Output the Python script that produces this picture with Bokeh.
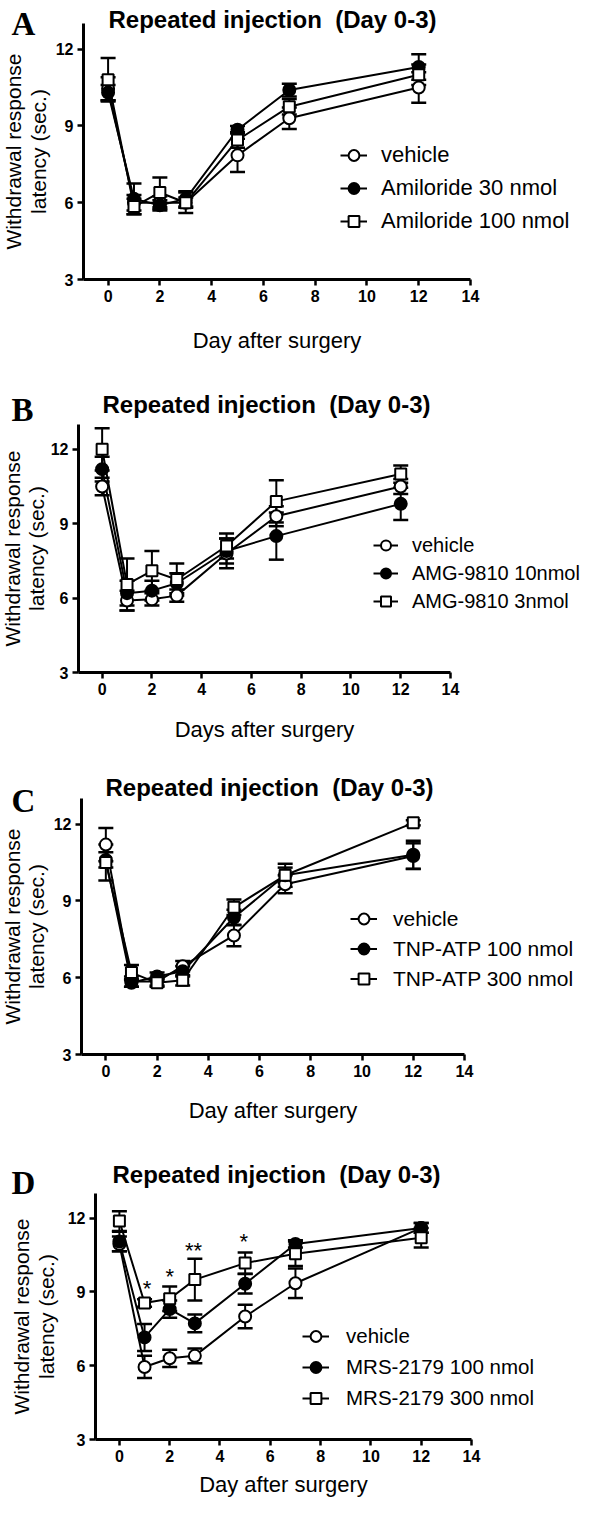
import numpy as np
from bokeh.plotting import figure
from bokeh.models import Range1d, FixedTicker, Label, Legend, LegendItem, LinearAxis
from bokeh.layouts import column
from bokeh.embed import file_html
from bokeh.resources import INLINE
from bokeh.core.properties import value

# ---------------- data ----------------
days = [0, 1, 2, 3, 5, 7, 12]
x_ticks = [0, 2, 4, 6, 8, 10, 12, 14]
y_ticks = [3, 6, 9, 12]
x_axis_span = (-0.95, 14)
y_axis_span = (3, 13)
title_text = "Repeated injection\u00a0\u00a0(Day 0-3)"
ylabel_1 = "Withdrawal response"
ylabel_2 = "latency (sec.)"

# Panel A
a_xlabel = "Day after surgery"
a_names = ["vehicle", "Amiloride 30 nmol", "Amiloride 100 nmol"]
a_vehicle = [10.45, 6.0, 6.0, 6.0, 7.85, 9.3, 10.5]
a_vehicle_err = [0.45, 0.3, 0.25, 0.2, 0.65, 0.42, 0.6]
a_ami30 = [10.3, 6.15, 5.9, 6.15, 8.85, 10.4, 11.3]
a_ami30_err = [0.3, 0.6, 0.2, 0.3, 0.15, 0.25, 0.5]
a_ami100 = [10.8, 5.85, 6.4, 6.0, 8.45, 9.75, 11.0]
a_ami100_err = [0.85, 0.3, 0.58, 0.4, 0.3, 0.3, 0.4]

# Panel B
b_xlabel = "Days after surgery"
b_names = ["vehicle", "AMG-9810 10nmol", "AMG-9810 3nmol"]
b_vehicle = [10.5, 5.9, 5.95, 6.1, 7.8, 9.3, 10.5]
b_vehicle_err = [0.35, 0.4, 0.25, 0.25, 0.6, 0.4, 0.3]
b_amg10 = [11.2, 6.2, 6.3, 6.6, 7.9, 8.5, 9.8]
b_amg10_err = [0.5, 0.5, 0.4, 0.4, 0.5, 0.95, 0.65]
b_amg3 = [12.0, 6.55, 7.1, 6.75, 8.1, 9.9, 11.0]
b_amg3_err = [0.85, 1.05, 0.8, 0.65, 0.5, 0.85, 0.35]

# Panel C
c_xlabel = "Day after surgery"
c_names = ["vehicle", "TNP-ATP 100 nmol", "TNP-ATP 300 nmol"]
c_vehicle = [11.2, 5.85, 5.85, 6.45, 7.65, 9.65, 10.75]
c_vehicle_err = [0.65, 0.2, 0.15, 0.2, 0.42, 0.35, 0.5]
c_tnp100 = [10.6, 5.8, 6.05, 6.25, 8.35, 10.0, 10.8]
c_tnp100_err = [0.3, 0.15, 0.15, 0.2, 0.3, 0.3, 0.55]
c_tnp300 = [10.5, 6.2, 5.8, 5.9, 8.75, 10.0, 12.05]
c_tnp300_err = [0.7, 0.3, 0.15, 0.2, 0.3, 0.45, 0.1]

# Panel D
d_xlabel = "Day after surgery"
d_names = ["vehicle", "MRS-2179 100 nmol", "MRS-2179 300 nmol"]
d_vehicle = [10.95, 5.95, 6.3, 6.4, 8.0, 9.35, 11.6]
d_vehicle_err = [0.3, 0.45, 0.35, 0.3, 0.48, 0.6, 0.2]
d_mrs100 = [11.05, 7.15, 8.3, 7.72, 9.33, 10.95, 11.6]
d_mrs100_err = [0.4, 0.55, 0.35, 0.36, 0.4, 0.15, 0.2]
d_mrs300 = [11.88, 8.55, 8.72, 9.5, 10.17, 10.55, 11.2]
d_mrs300_err = [0.4, 0.15, 0.5, 0.85, 0.43, 0.5, 0.4]
d_star_x = [1.1, 2.0, 2.95, 4.95]
d_star_y = [9.4, 9.87, 10.94, 11.28]
d_star_text = ["*", "*", "**", "*"]

SANS = "Liberation Sans"
SERIF = "Liberation Serif"

# ---------------- layout (page pixel geometry) ----------------
panels = [
    dict(letter="A", xlabel=a_xlabel, names=a_names,
         series=[(a_vehicle, a_vehicle_err), (a_ami30, a_ami30_err), (a_ami100, a_ami100_err)],
         top=8, h=366, FL=91, FR=478, FT=31, FB=287,
         letter_pos=(19, 31), title_pos=(280, 27), ylab_x=(21, 46), xlab_base=348,
         leg=dict(left=348, top=148, gw=27, gh=30, sp=3, so=14, fs="22px")),
    dict(letter="B", xlabel=b_xlabel, names=b_names,
         series=[(b_vehicle, b_vehicle_err), (b_amg10, b_amg10_err), (b_amg3, b_amg3_err)],
         top=374, h=376, FL=86, FR=458, FT=432, FB=680,
         letter_pos=(19, 417), title_pos=(274, 412), ylab_x=(20, 44), xlab_base=737,
         leg=dict(left=381, top=540, gw=25, gh=26, sp=2, so=14, fs="20px")),
    dict(letter="C", xlabel=c_xlabel, names=c_names,
         series=[(c_vehicle, c_vehicle_err), (c_tnp100, c_tnp100_err), (c_tnp300, c_tnp300_err)],
         top=750, h=382, FL=89, FR=472, FT=806, FB=1062,
         letter_pos=(19, 808), title_pos=(277, 795), ylab_x=(20, 44), xlab_base=1118,
         leg=dict(left=358, top=913, gw=27, gh=27, sp=3, so=16, fs="21px")),
    dict(letter="D", xlabel=d_xlabel, names=d_names,
         series=[(d_vehicle, d_vehicle_err), (d_mrs100, d_mrs100_err), (d_mrs300, d_mrs300_err)],
         top=1132, h=374, FL=103, FR=479, FT=1201, FB=1447,
         letter_pos=(19, 1190), title_pos=(284, 1182), ylab_x=(29, 54), xlab_base=1492,
         leg=dict(left=310, top=1330, gw=27, gh=28, sp=3, so=17, fs="20.5px"),
         stars=(d_star_x, d_star_y, d_star_text)),
]

styles = [
    dict(marker="circle", fill="white", size=12),
    dict(marker="circle", fill="black", size=12),
    dict(marker="square", fill="white", size=11),
]

W = 584
PAGE_X0 = 8


def make_panel(cfg):
    top, h = cfg["top"], cfg["h"]
    FL, FR, FT, FB = cfg["FL"], cfg["FR"], cfg["FT"], cfg["FB"]
    x0, x1 = x_axis_span
    y0, y1 = y_axis_span
    pxx = (FR - FL) / (x1 - x0)
    pxy = (FB - FT) / (y1 - y0)
    xr = Range1d(x0 - (FL - PAGE_X0) / pxx, x1 + (PAGE_X0 + W - FR) / pxx)
    yr = Range1d(y0 - (top + h - FB) / pxy, y1 + (FT - top) / pxy)

    p = figure(width=W, height=h, output_backend="svg", toolbar_location=None,
               x_range=xr, y_range=yr, x_axis_location=None, y_axis_location=None,
               min_border=0, min_border_left=0, min_border_right=0,
               min_border_top=0, min_border_bottom=0)
    p.outline_line_color = None
    p.grid.visible = False
    p.background_fill_color = "white"
    p.border_fill_color = "white"

    xaxis = LinearAxis(fixed_location=y0, bounds=x_axis_span, ticker=FixedTicker(ticks=x_ticks))
    yaxis = LinearAxis(fixed_location=x0, bounds=y_axis_span, ticker=FixedTicker(ticks=y_ticks))
    p.add_layout(xaxis, "below")
    p.add_layout(yaxis, "left")
    for ax in (xaxis, yaxis):
        ax.axis_line_width = 3
        ax.axis_line_color = "black"
        ax.major_tick_line_width = 2.5
        ax.major_tick_line_color = "black"
        ax.major_tick_out = 6
        ax.major_tick_in = 0
        ax.minor_tick_line_color = None
        ax.major_label_text_font = SANS
        ax.major_label_text_font_style = "bold"
        ax.major_label_text_font_size = "16px"
        ax.major_label_text_color = "black"
        ax.major_label_standoff = 4

    # error bars
    for vals, errs in cfg["series"]:
        up = [v + e for v, e in zip(vals, errs)]
        lo = [v - e for v, e in zip(vals, errs)]
        p.segment(x0=days, y0=lo, x1=days, y1=up, line_color="black", line_width=2)
        p.scatter(x=days + days, y=up + lo, marker="dash", size=15,
                  line_color="black", line_width=2.5)

    line_rs, mark_rs = [], []
    for vals, errs in cfg["series"]:
        line_rs.append(p.line(days, vals, line_color="black", line_width=2))
    for (vals, errs), st in zip(cfg["series"], styles):
        mark_rs.append(p.scatter(days, vals, marker=st["marker"], size=st["size"],
                                 fill_color=st["fill"], line_color="black", line_width=2))

    if "stars" in cfg:
        sx, sy, st = cfg["stars"]
        p.text(x=sx, y=sy, text=st, text_font=value(SANS), text_font_size=value("22px"),
               text_align="center", text_baseline="middle", y_offset=6, text_color="black")

    lg = cfg["leg"]
    n = len(cfg["names"])
    leg_h = n * lg["gh"] + (n - 1) * lg["sp"]
    items = [LegendItem(label=nm, renderers=[lr, mr])
             for nm, lr, mr in zip(cfg["names"], line_rs, mark_rs)]
    legend = Legend(items=items,
                    location=(lg["left"] - PAGE_X0, top + h - (lg["top"] + leg_h)),
                    orientation="vertical",
                    glyph_width=lg["gw"], glyph_height=lg["gh"], label_height=lg["gh"],
                    spacing=lg["sp"], padding=0, margin=0, label_standoff=lg["so"],
                    border_line_alpha=0, background_fill_alpha=0,
                    label_text_font=SANS, label_text_font_size=lg["fs"],
                    label_text_color="black")
    p.add_layout(legend)

    def lab(px, py, text, **kw):
        p.add_layout(Label(x=px - PAGE_X0, y=top + h - py, x_units="screen", y_units="screen",
                           text=text, text_color="black", **kw))

    lab(cfg["letter_pos"][0], cfg["letter_pos"][1], cfg["letter"], text_font=SERIF,
        text_font_style="bold", text_font_size="33px", text_align="left",
        text_baseline="alphabetic")
    lab(cfg["title_pos"][0], cfg["title_pos"][1], title_text, text_font=SANS,
        text_font_style="bold", text_font_size="24px", text_align="center",
        text_baseline="alphabetic")
    yc = (FT + FB) / 2
    lab(cfg["ylab_x"][0], yc, ylabel_1, text_font=SANS, text_font_size="21px",
        text_align="center", text_baseline="middle", angle=np.pi / 2)
    lab(cfg["ylab_x"][1], yc, ylabel_2, text_font=SANS, text_font_size="21px",
        text_align="center", text_baseline="middle", angle=np.pi / 2)
    xc = (FL + FR) / 2
    lab(xc, cfg["xlab_base"], cfg["xlabel"], text_font=SANS, text_font_size="22px",
        text_align="center", text_baseline="alphabetic")
    return p


figs = [make_panel(c) for c in panels]
layout = column(*figs, spacing=0)
open("out.html", "w").write(file_html(layout, INLINE))
